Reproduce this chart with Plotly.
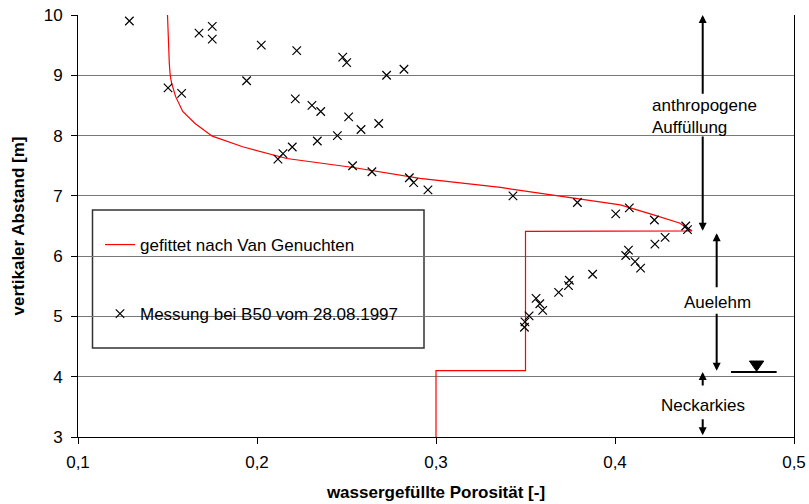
import plotly.graph_objects as go

# ---------------- data ----------------
fit_x = [0.150, 0.1502, 0.1505, 0.151, 0.1515, 0.1523, 0.1545, 0.1585, 0.1654,
         0.175, 0.1924, 0.2166, 0.2538, 0.291, 0.336, 0.369, 0.403, 0.422,
         0.436, 0.443, 0.350, 0.350, 0.300, 0.300]
fit_y = [10.0, 9.8, 9.5, 9.2, 9.0, 8.87, 8.65, 8.40, 8.20,
         7.99, 7.81, 7.62, 7.47, 7.29, 7.14, 7.00, 6.85, 6.68,
         6.55, 6.42, 6.41, 4.10, 4.10, 3.0]

meas_x = [0.1287, 0.1676, 0.175, 0.175, 0.2024, 0.2222, 0.2479, 0.2501, 0.2724,
          0.2821, 0.1942, 0.1503, 0.1579, 0.2214, 0.2307, 0.2356, 0.2512, 0.2581,
          0.2680, 0.2449, 0.2337, 0.2197, 0.2145, 0.2117, 0.2534, 0.2642, 0.2851,
          0.2875, 0.2955, 0.343, 0.379, 0.4004, 0.408, 0.422, 0.4395, 0.4405,
          0.428, 0.4223, 0.4075, 0.406, 0.4112, 0.4143, 0.3875, 0.3745, 0.374,
          0.3685, 0.3559, 0.358, 0.3596, 0.352, 0.3497, 0.3494]
meas_y = [9.90, 9.70, 9.81, 9.60, 9.50, 9.41, 9.30, 9.21, 9.00,
          9.10, 8.91, 8.79, 8.70, 8.61, 8.50, 8.40, 8.31, 8.10,
          8.20, 8.00, 7.91, 7.81, 7.70, 7.61, 7.50, 7.40, 7.30,
          7.22, 7.10, 7.00, 6.89, 6.70, 6.80, 6.60, 6.50, 6.44,
          6.31, 6.20, 6.10, 6.01, 5.91, 5.80, 5.70, 5.60, 5.51,
          5.40, 5.30, 5.21, 5.10, 5.01, 4.91, 4.82]

x_ticks = [0.1, 0.2, 0.3, 0.4, 0.5]
y_ticks = [3, 4, 5, 6, 7, 8, 9, 10]

fit_name = "gefittet nach Van Genuchten"
meas_name = "Messung bei B50 vom 28.08.1997"
x_title = "wassergefüllte Porosität [-]"
y_title = "vertikaler Abstand [m]"

# layer annotations (label, x, y) and arrow spans (x, y_top, y_bottom, gap_top, gap_bottom)
layer_labels = [("anthropogene<br>Auffüllung", 0.4196, 8.31, "left", "left"),
                ("Auelehm", 0.457, 5.23, "center", "center"),
                ("Neckarkies", 0.4492, 3.53, "center", "center")]
layer_spans = [(0.449, 10.0, 6.42, 8.67, 8.01),
               (0.4568, 6.38, 4.10, 5.46, 5.07),
               (0.449, 4.08, 3.03, 3.83, 3.32)]
water_level = 4.08
water_x = [0.4648, 0.4903]
water_tri_x = 0.4791

FONT = "Liberation Sans, Arial, sans-serif"
FS = 17

fig = go.Figure()
fig.add_trace(go.Scatter(x=fit_x, y=fit_y, mode="lines", name=fit_name,
                         line=dict(color="#ff0000", width=1.2),
                         legendgroup="a"))
fig.add_trace(go.Scatter(x=meas_x, y=meas_y, mode="markers", name=meas_name,
                         marker=dict(symbol="x-thin", size=8.5, color="black",
                                     line=dict(color="black", width=1.2)),
                         legendgroup="b"))

PX0, PX1, PY0, PY1 = 78, 794, 15, 437
def px_x(p):
    return (p - PX0) / (PX1 - PX0)
def px_y(p):
    return (PY1 - p) / (PY1 - PY0)

shapes = [dict(type="rect", xref="paper", yref="paper",
               x0=px_x(92.5), x1=px_x(424), y0=px_y(348), y1=px_y(210),
               line=dict(color="#333333", width=1.5), fillcolor="white",
               layer="between")]

annotations = []
for (xa, yt, yb, gt, gb) in layer_spans:
    for (yh, yt2) in ((yt, gt), (yb, gb)):
        annotations.append(dict(x=xa, y=yh, ax=xa, ay=yt2, xref="x", yref="y",
                                axref="x", ayref="y", text="", showarrow=True,
                                arrowhead=2, arrowsize=0.8, arrowwidth=2,
                                arrowcolor="black", standoff=0))
for (txt, xa, ya, xanc, al) in layer_labels:
    annotations.append(dict(x=xa, y=ya, xref="x", yref="y", text=txt,
                            showarrow=False, xanchor=xanc, align=al,
                            font=dict(family=FONT, size=FS, color="black")))

# groundwater symbol
shapes.append(dict(type="line", xref="x", yref="y", x0=water_x[0], x1=water_x[1],
                   y0=water_level, y1=water_level,
                   line=dict(color="black", width=2)))
shapes.append(dict(type="path", xref="x", yref="y",
                   path=f"M {water_tri_x - 0.0040} {water_level + 0.18} "
                        f"L {water_tri_x + 0.0040} {water_level + 0.18} "
                        f"L {water_tri_x} {water_level + 0.01} Z",
                   fillcolor="black", line=dict(color="black", width=1)))

fig.update_layout(
    width=809, height=504,
    margin=dict(l=78, r=15, t=15, b=67, autoexpand=False),
    paper_bgcolor="white", plot_bgcolor="white",
    separators=", ",
    font=dict(family=FONT, size=FS, color="black"),
    showlegend=True,
    legend=dict(x=px_x(100), y=px_y(227), xanchor="left", yanchor="top",
                bgcolor="rgba(0,0,0,0)", borderwidth=0,
                tracegroupgap=44, font=dict(family=FONT, size=FS, color="black")),
    shapes=shapes, annotations=annotations,
    xaxis=dict(range=[0.1, 0.5], tickvals=x_ticks, tickformat=".1f",
               automargin=False,
               showgrid=False, zeroline=False, showline=True,
               linecolor="black", linewidth=1, ticks="outside", ticklen=6,
               tickcolor="black", tickfont=dict(family=FONT, size=FS),
               ticklabelstandoff=4,
               title=dict(text=f"<b>{x_title}</b>", standoff=14,
                          font=dict(family=FONT, size=FS))),
    yaxis=dict(range=[3, 10], tickvals=y_ticks, showgrid=True,
               automargin=False,
               gridcolor="#787878", gridwidth=1, zeroline=False,
               showline=True, mirror=True, linecolor="black", linewidth=1,
               ticks="outside", ticklen=6, tickcolor="black",
               tickfont=dict(family=FONT, size=FS), ticklabelstandoff=5,
               title=dict(text=f"<b>{y_title}</b>", standoff=14,
                          font=dict(family=FONT, size=FS))),
)

fig.write_html("out.html")
